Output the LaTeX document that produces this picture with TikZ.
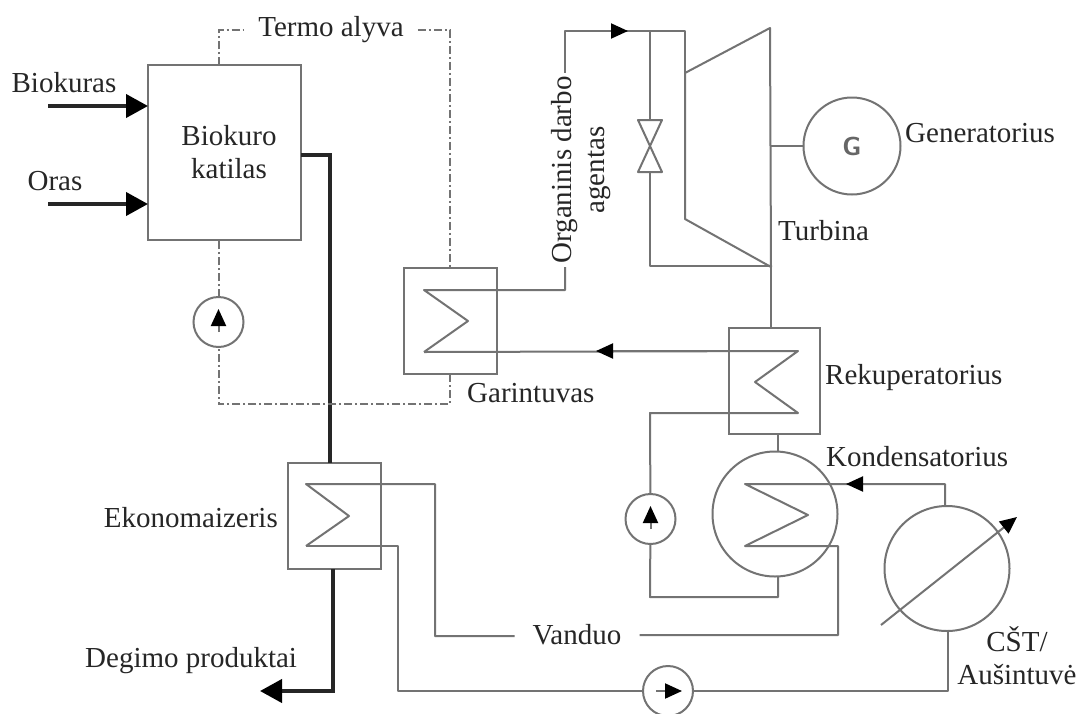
\documentclass[tikz,border=0pt]{standalone}
\usepackage{fontspec}
\setmainfont{Liberation Serif}
\usetikzlibrary{arrows.meta}
\begin{document}
\begin{tikzpicture}[x=1pt, y=-1pt, every node/.style={font=\fontsize{29}{33}\selectfont, text=black!85}]
  \tikzstyle{pipe}=[draw=black!55, line width=2pt]
  \tikzstyle{flue}=[draw=black!85, line width=4pt]
  \tikzstyle{oil}=[draw=black!55, line width=2pt, dash pattern=on 8pt off 3pt on 2pt off 3pt]
  \tikzstyle{hx}=[draw=black!55, line width=2pt, inner sep=0pt, outer sep=0pt, minimum width=93, minimum height=106]
  \tikzstyle{pmp}=[draw=black!55, line width=2pt, circle, inner sep=0pt, outer sep=0pt, minimum size=50]
  \tikzstyle{big}=[draw=black!55, line width=2pt, circle, inner sep=0pt, outer sep=0pt, minimum size=125]
  \tikzstyle{tip}=[-{Triangle[length=17pt, width=15pt, color=black, fill=black]}]
  \tikzstyle{fat}=[-{Triangle[length=22pt, width=23pt, color=black, fill=black]}]
  \useasboundingbox (0, 0) rectangle (1080, 713);
  \fill[white] (0, 0) rectangle (1080, 713);
  % equipment
  \node[draw=black!55, line width=2pt, inner sep=0pt, outer sep=0pt, minimum width=153, minimum height=175] (katilas) at (224.5, 152.5) {};
  \node[align=center] (katilastxt) at (229, 152) {Biokuro\\katilas};
  \node[hx] (garintuvas) at (450.5, 321) {};
  \node[hx, minimum width=91] (rekup) at (774.5, 381) {};
  \node[hx] (ekon) at (334, 516) {};
  \node[big] (kond) at (775, 514) {};
  \node[big] (cst) at (947, 568.5) {};
  \node[pmp] (pump1) at (218.5, 322) {};
  \node[pmp] (pump2) at (650.5, 519) {};
  \node[pmp] (pump3) at (668, 691) {};
  \node[draw=black!55, line width=2pt, circle, inner sep=0pt, outer sep=0pt, minimum size=97, text=black!60, font=\sffamily\fontsize{26}{30}\selectfont] (gen) at (852, 146) {\textbf{G}};
  % labels
  \node (biokuras) at (64, 83) {Biokuras};
  \node (oras) at (55, 181) {Oras};
  \node[inner sep=14pt] (termo) at (331, 30) {Termo alyva};
  \node[rotate=90, align=center] (organinis) at (581, 170) {Organinis darbo\\agentas};
  \node[anchor=west, inner sep=0pt] (generatorius) at (905, 133) {Generatorius};
  \node[anchor=west, inner sep=0pt] (turbina) at (778, 231) {Turbina};
  \node[anchor=west, inner sep=0pt] (garlbl) at (467, 393) {Garintuvas};
  \node[anchor=west, inner sep=0pt] (reklbl) at (825, 378) {Rekuperatorius};
  \node[anchor=west, inner sep=0pt] (konlbl) at (826, 457) {Kondensatorius};
  \node[anchor=east, inner sep=0pt] (ekolbl) at (278, 518) {Ekonomaizeris};
  \node[anchor=west, inner sep=0pt] (degimo) at (85, 661) {Degimo produktai};
  \node[inner sep=18pt] (vanduo) at (577, 635) {Vanduo};
  \node[align=center] (aus) at (1017, 656) {CŠT/\\Aušintuvė};
  % turbine and valve
  \coordinate (t1) at (685, 73); \coordinate (t2) at (770, 28);
  \coordinate (t3) at (771, 267); \coordinate (t4) at (685, 219);
  \draw[pipe, line join=round] (t1) -- (t2) -- (t3) -- (t4) -- cycle;
  \coordinate (v1) at (638, 120); \coordinate (v2) at (662, 120);
  \coordinate (v3) at (638, 172); \coordinate (v4) at (662, 172);
  \draw[pipe, line join=round] (v1) -- (v2) -- (v3) -- (v4) -- cycle;
  % coils
  \coordinate (g1) at (424, 290); \coordinate (g2) at (468, 321); \coordinate (g3) at (424, 352);
  \coordinate (r1) at (798, 351); \coordinate (r2) at (755, 382); \coordinate (r3) at (798, 413);
  \coordinate (e1) at (306, 484); \coordinate (e2) at (349, 516); \coordinate (e3) at (306, 546);
  \coordinate (k1) at (745, 484); \coordinate (k2) at (808, 515); \coordinate (k3) at (745, 546);
  % working fluid
  \coordinate (orgtop) at (565, 31); \coordinate (orgbot) at (565, 290);
  \coordinate (split) at (650, 31); \coordinate (turbin) at (685, 31);
  \coordinate (tipa) at (628, 31); \coordinate (tipb) at (596, 351);
  \coordinate (ret) at (650, 266); \coordinate (exh) at (772, 266);
  \coordinate (cnd) at (778, 597); \coordinate (pmpl) at (650, 597); \coordinate (recl) at (650, 413);
  \draw[pipe, line join=round] (g3) -- (g2) -- (g1) -- (orgbot) -- (organinis.west -| orgbot);
  \draw[pipe, line join=round] (organinis.east -| orgbot) -- (orgtop) -- (turbin) -- (t1);
  \draw[pipe, tip] (orgtop) -- (tipa);
  \draw[pipe] (split) -- (v1 -| split);
  \draw[pipe, line join=round] (v3 -| split) -- (ret) -- (exh);
  \draw[pipe] (t3) -- (rekup.north -| t3);
  \draw[pipe, line join=round] (g3) -- (r1) -- (r2) -- (r3) -- (recl) -- (pump2);
  \draw[pipe, tip] (r1) -- (tipb);
  \draw[pipe] (rekup.south -| cnd) -- (kond.north -| cnd);
  \draw[pipe, line join=round] (kond.south -| cnd) -- (cnd) -- (pmpl) -- (pump2);
  % cooling water
  \coordinate (ekoa) at (435, 484); \coordinate (ekob) at (435, 636);
  \coordinate (ekoc) at (398, 546); \coordinate (ekod) at (398, 691);
  \coordinate (vanb) at (838, 635); \coordinate (vanc) at (838, 546);
  \coordinate (csta) at (945, 484); \coordinate (tipc) at (846, 484);
  \coordinate (cstb) at (948, 691);
  \draw[pipe, line join=round] (e3) -- (e2) -- (e1) -- (ekoa) -- (ekob) -- (vanduo.west |- ekob);
  \draw[pipe, line join=round] (e3) -- (ekoc) -- (ekod) -- (pump3);
  \draw[pipe, line join=round] (vanduo.east |- vanb) -- (vanb) -- (vanc) -- (k3) -- (k2) -- (k1) -- (csta) -- (cst.north -| csta);
  \draw[pipe, tip] (csta) -- (tipc);
  \draw[pipe, line join=round] (pump3) -- (cstb) -- (cst.south -| cstb);
  \coordinate (cstx) at (881, 625); \coordinate (csty) at (1017, 517);
  \draw[pipe, tip] (cstx) -- (csty);
  \draw[pipe] (t2 |- gen) -- (gen.west);
  % pump arrows
  \coordinate (pa1) at (218.5, 332); \coordinate (pb1) at (218.5, 309);
  \coordinate (pa2) at (650.5, 529); \coordinate (pb2) at (650.5, 506);
  \coordinate (pa3) at (656, 691); \coordinate (pb3) at (682, 691);
  \foreach \a/\b in {pa1/pb1, pa2/pb2, pa3/pb3}
    \draw[pipe, tip] (\a) -- (\b);
  % flue gas
  \coordinate (fuel) at (48, 106); \coordinate (air) at (48, 204);
  \draw[flue, fat] (fuel) -- (katilas.west |- fuel);
  \draw[flue, fat] (air) -- (katilas.west |- air);
  \coordinate (gasa) at (330, 155); \coordinate (gasb) at (333, 691); \coordinate (gasc) at (260, 691);
  \draw[flue, line join=miter] (katilas.east |- gasa) -- (gasa) -- (gasa |- ekon.north);
  \draw[flue, fat, line join=miter] (gasb |- ekon.south) -- (gasb) -- (gasc);
  % thermal oil
  \coordinate (oila) at (218.5, 30); \coordinate (oilb) at (450, 30);
  \coordinate (oilc) at (450, 404); \coordinate (oild) at (218.5, 404);
  \draw[oil] (oila |- katilas.north) -- (oila) -- (termo.west |- oila);
  \draw[oil] (termo.east |- oilb) -- (oilb) -- (oilb |- garintuvas.north);
  \draw[oil] (oilc |- garintuvas.south) -- (oilc) -- (oild) -- (pump1);
  \draw[oil] (pump1) -- (oila |- katilas.south);
\end{tikzpicture}
\end{document}
